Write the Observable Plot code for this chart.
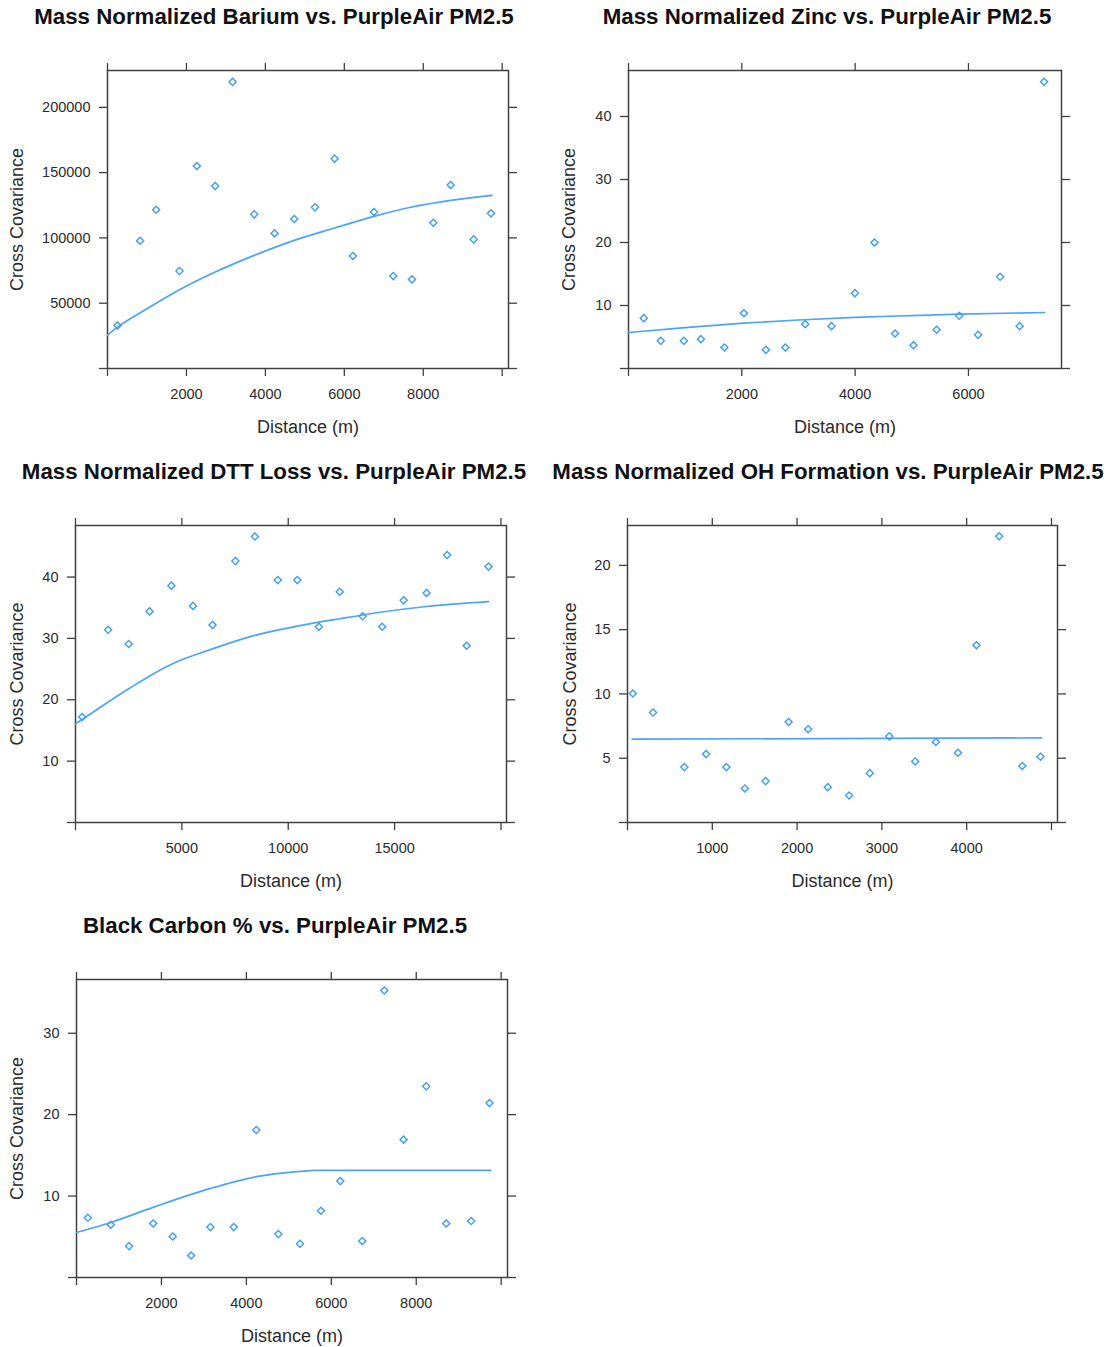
<!DOCTYPE html>
<html><head><meta charset="utf-8">
<script src="https://cdn.jsdelivr.net/npm/d3@7"></script>
<script src="https://cdn.jsdelivr.net/npm/@observablehq/plot@0.6"></script>
<style>
body{margin:0;background:#fff;}
#root{position:relative;width:1110px;height:1347px;overflow:hidden;background:#fff;font-family:"Liberation Sans",Arial,sans-serif;}
.title{position:absolute;font-weight:bold;font-size:22.3px;color:#111;white-space:nowrap;transform:translateX(-50%);line-height:22px;margin:0;}
.panel{position:absolute;}
</style></head><body><div id="root"></div>
<script>
// ---------- data ----------
const titles = [
  "Mass Normalized Barium vs. PurpleAir PM2.5",
  "Mass Normalized Zinc vs. PurpleAir PM2.5",
  "Mass Normalized DTT Loss vs. PurpleAir PM2.5",
  "Mass Normalized OH Formation vs. PurpleAir PM2.5",
  "Black Carbon % vs. PurpleAir PM2.5"
];
const xAxisLabel = "Distance (m)";
const yAxisLabel = "Cross Covariance";

// Barium
const bariumDist = [253, 828, 1234, 1825, 2264, 2729, 3169, 3718, 4233, 4732, 5256, 5754, 6219, 6751, 7241, 7714, 8255, 8694, 9278, 9717];
const bariumCov = [32960, 97850, 121600, 74600, 155100, 139760, 219470, 118040, 103470, 114460, 123400, 160700, 86100, 119830, 70770, 68220, 111650, 140520, 98880, 118800];
const bariumFitDist = [0, 253, 1000, 1825, 2729, 3718, 4732, 5754, 6751, 7714, 8694, 9743];
const bariumFitCov = [25550, 31680, 45730, 60300, 73840, 86600, 98110, 107560, 116500, 123660, 128770, 132600];
const bariumXTicks = [0, 2000, 4000, 6000, 8000, 10000];
const bariumXLabels = [2000, 4000, 6000, 8000];
const bariumYTicks = [0, 50000, 100000, 150000, 200000];
const bariumYLabels = [50000, 100000, 150000, 200000];

// Zinc
const zincDist = [269, 570, 977, 1278, 1691, 2036, 2424, 2769, 3119, 3583, 3996, 4341, 4704, 5030, 5437, 5838, 6170, 6558, 6903, 7335];
const zincCov = [7.99, 4.39, 4.39, 4.66, 3.33, 8.78, 2.96, 3.33, 7.04, 6.72, 11.96, 20.0, 5.56, 3.70, 6.14, 8.36, 5.34, 14.55, 6.72, 45.5];
const zincFitDist = [0, 1000, 2036, 3000, 3996, 5000, 5838, 7347];
const zincFitCov = [5.71, 6.5, 7.2, 7.7, 8.1, 8.4, 8.62, 8.89];
const zincXTicks = [0, 2000, 4000, 6000];
const zincXLabels = [2000, 4000, 6000];
const zincYTicks = [0, 10, 20, 30, 40];
const zincYLabels = [10, 20, 30, 40];

// DTT loss
const dttDist = [316, 1535, 2500, 3481, 4509, 5522, 6440, 7516, 8434, 9509, 10427, 11440, 12421, 13497, 14415, 15427, 16503, 17468, 18386, 19415];
const dttCov = [17.2, 31.4, 29.1, 34.4, 38.6, 35.3, 32.2, 42.6, 46.6, 39.5, 39.5, 31.9, 37.6, 33.6, 31.9, 36.2, 37.4, 43.6, 28.8, 41.7];
const dttFitDist = [0, 316, 2500, 4509, 6440, 8434, 10427, 12421, 14415, 16503, 19415];
const dttFitCov = [16.1, 16.8, 21.8, 25.8, 28.3, 30.5, 32.0, 33.2, 34.3, 35.2, 36.0];
const dttXTicks = [0, 5000, 10000, 15000, 20000];
const dttXLabels = [5000, 10000, 15000];
const dttYTicks = [0, 10, 20, 30, 40];
const dttYLabels = [10, 20, 30, 40];

// OH formation
const ohDist = [63, 302, 671, 927, 1166, 1384, 1628, 1900, 2131, 2362, 2613, 2857, 3087, 3393, 3637, 3897, 4115, 4383, 4656, 4870];
const ohCov = [10.03, 8.55, 4.31, 5.32, 4.31, 2.65, 3.22, 7.82, 7.25, 2.75, 2.10, 3.84, 6.70, 4.75, 6.26, 5.43, 13.79, 22.26, 4.39, 5.12];
const ohFitDist = [55, 4880];
const ohFitCov = [6.48, 6.58];
const ohXTicks = [0, 1000, 2000, 3000, 4000, 5000];
const ohXLabels = [1000, 2000, 3000, 4000];
const ohYTicks = [0, 5, 10, 15, 20];
const ohYLabels = [5, 10, 15, 20];

// Black carbon
const bcDist = [267, 808, 1239, 1804, 2267, 2698, 3153, 3702, 4235, 4753, 5263, 5757, 6212, 6729, 7247, 7702, 8235, 8706, 9294, 9725];
const bcCov = [7.33, 6.48, 3.85, 6.64, 5.04, 2.70, 6.19, 6.19, 18.11, 5.33, 4.14, 8.20, 11.84, 4.47, 35.25, 16.93, 23.48, 6.64, 6.93, 21.43];
const bcFitDist = [0, 808, 1804, 3153, 4235, 5263, 5600, 9757];
const bcFitCov = [5.53, 6.76, 8.61, 10.94, 12.38, 13.03, 13.16, 13.16];
const bcXTicks = [0, 2000, 4000, 6000, 8000, 10000];
const bcXLabels = [2000, 4000, 6000, 8000];
const bcYTicks = [0, 10, 20, 30];
const bcYLabels = [10, 20, 30];

// ---------- layout (page pixels) ----------
const panels = [
  {title: titles[0], tx: 274, tBase: 24, svg: [0, 45, 548, 400], frame: [107, 508, 70, 368], xDomain: [0, 10160], yDomain: [0, 228200], yOff: 97,
   dist: bariumDist, cov: bariumCov, fitDist: bariumFitDist, fitCov: bariumFitCov, xTicks: bariumXTicks, xLabels: bariumXLabels, yTicks: bariumYTicks, yLabels: bariumYLabels},
  {title: titles[1], tx: 827, tBase: 24, svg: [552, 45, 558, 400], frame: [628, 1061, 70, 368], xDomain: [0, 7642], yDomain: [0, 47.3], yOff: 66,
   dist: zincDist, cov: zincCov, fitDist: zincFitDist, fitCov: zincFitCov, xTicks: zincXTicks, xLabels: zincXLabels, yTicks: zincYTicks, yLabels: zincYLabels},
  {title: titles[2], tx: 274, tBase: 479, svg: [0, 500, 548, 400], frame: [75, 506, 525, 822], xDomain: [0, 20260], yDomain: [0, 48.4], yOff: 65,
   dist: dttDist, cov: dttCov, fitDist: dttFitDist, fitCov: dttFitCov, xTicks: dttXTicks, xLabels: dttXLabels, yTicks: dttYTicks, yLabels: dttYLabels},
  {title: titles[3], tx: 828, tBase: 479, svg: [552, 500, 558, 400], frame: [627, 1057, 525, 822], xDomain: [0, 5071], yDomain: [0, 23.1], yOff: 64,
   dist: ohDist, cov: ohCov, fitDist: ohFitDist, fitCov: ohFitCov, xTicks: ohXTicks, xLabels: ohXLabels, yTicks: ohYTicks, yLabels: ohYLabels},
  {title: titles[4], tx: 275, tBase: 933, svg: [0, 955, 548, 392], frame: [76, 507, 979, 1277], xDomain: [0, 10149], yDomain: [0, 36.6], yOff: 66,
   dist: bcDist, cov: bcCov, fitDist: bcFitDist, fitCov: bcFitCov, xTicks: bcXTicks, xLabels: bcXLabels, yTicks: bcYTicks, yLabels: bcYLabels}
];

const blue = "#3d9bff";
const lineBlue = "#4aa3ff";
const ink = "#404040";
const root = document.getElementById("root");

for (const p of panels) {
  const [sx, sy, sw, sh] = p.svg;
  const [l, r, t, b] = p.frame;
  const pts = p.dist.map((d, i) => ({d, c: p.cov[i]}));
  const fit = p.fitDist.map((d, i) => ({d, c: p.fitCov[i]}));
  const fx = d => p.xLabels.includes(d) ? String(d) : "";
  const fy = d => p.yLabels.includes(d) ? String(d) : "";
  const chart = Plot.plot({
    width: sw, height: sh,
    marginLeft: l - sx, marginRight: sx + sw - r, marginTop: t - sy, marginBottom: sy + sh - b,
    x: {domain: p.xDomain},
    y: {domain: p.yDomain},
    style: {fontFamily: "'Liberation Sans', Arial, sans-serif", fontSize: "14.5px", color: "#2b2b2b", background: "transparent", overflow: "visible"},
    marks: [
      Plot.axisX({anchor: "bottom", ticks: p.xTicks, tickFormat: fx, tickSize: 8, tickPadding: 12, label: null, stroke: ink, strokeWidth: 1.3, fontSize: 14.5}),
      Plot.axisX({anchor: "top", ticks: p.xTicks, tickFormat: () => "", tickSize: 8, label: null, stroke: ink, strokeWidth: 1.3}),
      Plot.axisY({anchor: "left", ticks: p.yTicks, tickFormat: fy, tickSize: 8, tickPadding: 9, label: null, stroke: ink, strokeWidth: 1.3, fontSize: 14.5}),
      Plot.axisY({anchor: "right", ticks: p.yTicks, tickFormat: () => "", tickSize: 8, label: null, stroke: ink, strokeWidth: 1.3}),
      Plot.axisX({anchor: "bottom", ticks: [], tickSize: 0, label: xAxisLabel, labelAnchor: "center", labelArrow: "none", labelOffset: 64, fontSize: 18}),
      Plot.axisY({anchor: "left", ticks: [], tickSize: 0, label: yAxisLabel, labelAnchor: "center", labelArrow: "none", labelOffset: p.yOff, fontSize: 18}),
      Plot.frame({stroke: ink, strokeWidth: 1.5}),
      Plot.line(fit, {x: "d", y: "c", stroke: lineBlue, strokeWidth: 1.7, curve: "monotone-x"}),
      Plot.dot(pts, {x: "d", y: "c", symbol: "diamond2", r: 3.2, stroke: blue, strokeWidth: 1.4})
    ]
  });
  chart.classList.add("panel");
  chart.style.left = sx + "px";
  chart.style.top = sy + "px";
  root.appendChild(chart);

  const h = document.createElement("div");
  h.className = "title";
  h.textContent = p.title;
  h.style.left = p.tx + "px";
  h.style.top = (p.tBase - 18) + "px";
  root.appendChild(h);
}
</script>
</body></html>
